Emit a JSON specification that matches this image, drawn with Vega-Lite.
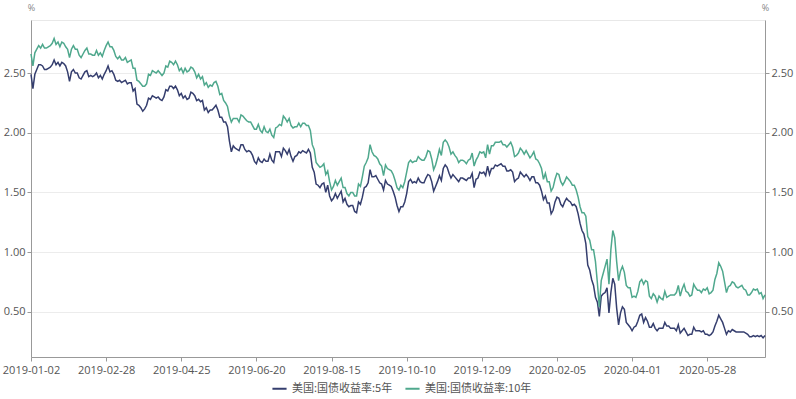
{
"$schema": "https://vega.github.io/schema/vega-lite/v6.json",
"width": 734, "height": 337,
"autosize": {"type": "none"},
"padding": {"left": 31, "top": 20, "right": 31, "bottom": 42},
"background": "white",
"config": {"view": {"stroke": "#e8e8e8", "strokeWidth": 1}, "font": "Open Sans"},
"data": {"values": [
{"d":"2019-01-02","a":2.49,"b":2.66},{"d":"2019-01-03","a":2.37,"b":2.56},{"d":"2019-01-04","a":2.49,"b":2.67},{"d":"2019-01-07","a":2.53,"b":2.70},{"d":"2019-01-08","a":2.57,"b":2.73},{"d":"2019-01-09","a":2.57,"b":2.71},{"d":"2019-01-10","a":2.56,"b":2.74},{"d":"2019-01-11","a":2.53,"b":2.71},{"d":"2019-01-14","a":2.53,"b":2.71},{"d":"2019-01-15","a":2.54,"b":2.72},{"d":"2019-01-16","a":2.55,"b":2.73},{"d":"2019-01-17","a":2.57,"b":2.75},{"d":"2019-01-18","a":2.61,"b":2.79},{"d":"2019-01-22","a":2.57,"b":2.74},{"d":"2019-01-23","a":2.59,"b":2.76},{"d":"2019-01-24","a":2.56,"b":2.72},{"d":"2019-01-25","a":2.59,"b":2.76},{"d":"2019-01-28","a":2.58,"b":2.75},{"d":"2019-01-29","a":2.56,"b":2.72},{"d":"2019-01-30","a":2.51,"b":2.70},{"d":"2019-01-31","a":2.43,"b":2.63},
{"d":"2019-02-01","a":2.51,"b":2.70},{"d":"2019-02-04","a":2.53,"b":2.73},{"d":"2019-02-05","a":2.50,"b":2.70},{"d":"2019-02-06","a":2.50,"b":2.70},{"d":"2019-02-07","a":2.46,"b":2.65},{"d":"2019-02-08","a":2.45,"b":2.63},{"d":"2019-02-11","a":2.48,"b":2.66},{"d":"2019-02-12","a":2.51,"b":2.69},{"d":"2019-02-13","a":2.52,"b":2.71},{"d":"2019-02-14","a":2.47,"b":2.66},{"d":"2019-02-15","a":2.48,"b":2.66},{"d":"2019-02-19","a":2.47,"b":2.65},{"d":"2019-02-20","a":2.48,"b":2.65},{"d":"2019-02-21","a":2.50,"b":2.69},{"d":"2019-02-22","a":2.46,"b":2.65},{"d":"2019-02-25","a":2.48,"b":2.67},{"d":"2019-02-26","a":2.45,"b":2.64},{"d":"2019-02-27","a":2.49,"b":2.69},{"d":"2019-02-28","a":2.52,"b":2.73},
{"d":"2019-03-01","a":2.56,"b":2.76},{"d":"2019-03-04","a":2.51,"b":2.72},{"d":"2019-03-05","a":2.52,"b":2.72},{"d":"2019-03-06","a":2.49,"b":2.69},{"d":"2019-03-07","a":2.44,"b":2.64},{"d":"2019-03-08","a":2.43,"b":2.62},{"d":"2019-03-11","a":2.44,"b":2.64},{"d":"2019-03-12","a":2.42,"b":2.61},{"d":"2019-03-13","a":2.43,"b":2.61},{"d":"2019-03-14","a":2.44,"b":2.63},{"d":"2019-03-15","a":2.41,"b":2.59},{"d":"2019-03-18","a":2.42,"b":2.60},{"d":"2019-03-19","a":2.42,"b":2.61},{"d":"2019-03-20","a":2.35,"b":2.54},{"d":"2019-03-21","a":2.37,"b":2.54},{"d":"2019-03-22","a":2.24,"b":2.44},{"d":"2019-03-25","a":2.23,"b":2.43},{"d":"2019-03-26","a":2.21,"b":2.41},{"d":"2019-03-27","a":2.18,"b":2.39},{"d":"2019-03-28","a":2.20,"b":2.39},{"d":"2019-03-29","a":2.23,"b":2.41},
{"d":"2019-04-01","a":2.29,"b":2.49},{"d":"2019-04-02","a":2.28,"b":2.48},{"d":"2019-04-03","a":2.31,"b":2.52},{"d":"2019-04-04","a":2.30,"b":2.51},{"d":"2019-04-05","a":2.29,"b":2.50},{"d":"2019-04-08","a":2.30,"b":2.52},{"d":"2019-04-09","a":2.28,"b":2.50},{"d":"2019-04-10","a":2.27,"b":2.48},{"d":"2019-04-11","a":2.30,"b":2.50},{"d":"2019-04-12","a":2.36,"b":2.56},{"d":"2019-04-15","a":2.35,"b":2.55},{"d":"2019-04-16","a":2.39,"b":2.60},{"d":"2019-04-17","a":2.39,"b":2.59},{"d":"2019-04-18","a":2.37,"b":2.57},{"d":"2019-04-22","a":2.39,"b":2.60},{"d":"2019-04-23","a":2.36,"b":2.57},{"d":"2019-04-24","a":2.31,"b":2.52},{"d":"2019-04-25","a":2.33,"b":2.54},{"d":"2019-04-26","a":2.29,"b":2.50},{"d":"2019-04-29","a":2.31,"b":2.54},{"d":"2019-04-30","a":2.28,"b":2.51},
{"d":"2019-05-01","a":2.29,"b":2.52},{"d":"2019-05-02","a":2.34,"b":2.55},{"d":"2019-05-03","a":2.33,"b":2.54},{"d":"2019-05-06","a":2.31,"b":2.51},{"d":"2019-05-07","a":2.27,"b":2.46},{"d":"2019-05-08","a":2.28,"b":2.49},{"d":"2019-05-09","a":2.26,"b":2.45},{"d":"2019-05-10","a":2.27,"b":2.47},{"d":"2019-05-13","a":2.19,"b":2.40},{"d":"2019-05-14","a":2.21,"b":2.42},{"d":"2019-05-15","a":2.17,"b":2.38},{"d":"2019-05-16","a":2.19,"b":2.40},{"d":"2019-05-17","a":2.19,"b":2.39},{"d":"2019-05-20","a":2.21,"b":2.42},{"d":"2019-05-21","a":2.23,"b":2.43},{"d":"2019-05-22","a":2.19,"b":2.39},{"d":"2019-05-23","a":2.13,"b":2.32},{"d":"2019-05-24","a":2.13,"b":2.33},{"d":"2019-05-28","a":2.09,"b":2.27},{"d":"2019-05-29","a":2.09,"b":2.25},{"d":"2019-05-30","a":2.05,"b":2.22},{"d":"2019-05-31","a":1.93,"b":2.14},
{"d":"2019-06-03","a":1.84,"b":2.09},{"d":"2019-06-04","a":1.89,"b":2.12},{"d":"2019-06-05","a":1.87,"b":2.12},{"d":"2019-06-06","a":1.86,"b":2.12},{"d":"2019-06-07","a":1.85,"b":2.09},{"d":"2019-06-10","a":1.90,"b":2.15},{"d":"2019-06-11","a":1.90,"b":2.14},{"d":"2019-06-12","a":1.86,"b":2.12},{"d":"2019-06-13","a":1.84,"b":2.10},{"d":"2019-06-14","a":1.85,"b":2.09},{"d":"2019-06-17","a":1.84,"b":2.09},{"d":"2019-06-18","a":1.81,"b":2.06},{"d":"2019-06-19","a":1.76,"b":2.03},{"d":"2019-06-20","a":1.74,"b":2.03},{"d":"2019-06-21","a":1.79,"b":2.07},{"d":"2019-06-24","a":1.76,"b":2.02},{"d":"2019-06-25","a":1.75,"b":2.00},{"d":"2019-06-26","a":1.78,"b":2.05},{"d":"2019-06-27","a":1.76,"b":2.01},{"d":"2019-06-28","a":1.76,"b":2.00},
{"d":"2019-07-01","a":1.82,"b":2.03},{"d":"2019-07-02","a":1.77,"b":1.98},{"d":"2019-07-03","a":1.75,"b":1.96},{"d":"2019-07-05","a":1.84,"b":2.04},{"d":"2019-07-08","a":1.84,"b":2.05},{"d":"2019-07-09","a":1.84,"b":2.07},{"d":"2019-07-10","a":1.80,"b":2.06},{"d":"2019-07-11","a":1.87,"b":2.14},{"d":"2019-07-12","a":1.85,"b":2.12},{"d":"2019-07-15","a":1.82,"b":2.09},{"d":"2019-07-16","a":1.86,"b":2.12},{"d":"2019-07-17","a":1.80,"b":2.06},{"d":"2019-07-18","a":1.76,"b":2.04},{"d":"2019-07-19","a":1.80,"b":2.05},{"d":"2019-07-22","a":1.81,"b":2.05},{"d":"2019-07-23","a":1.84,"b":2.08},{"d":"2019-07-24","a":1.83,"b":2.05},{"d":"2019-07-25","a":1.85,"b":2.08},{"d":"2019-07-26","a":1.84,"b":2.08},{"d":"2019-07-29","a":1.83,"b":2.06},{"d":"2019-07-30","a":1.86,"b":2.06},{"d":"2019-07-31","a":1.83,"b":2.02},
{"d":"2019-08-01","a":1.71,"b":1.90},{"d":"2019-08-02","a":1.67,"b":1.86},{"d":"2019-08-05","a":1.57,"b":1.75},{"d":"2019-08-06","a":1.56,"b":1.73},{"d":"2019-08-07","a":1.54,"b":1.71},{"d":"2019-08-08","a":1.57,"b":1.72},{"d":"2019-08-09","a":1.58,"b":1.74},{"d":"2019-08-12","a":1.50,"b":1.65},{"d":"2019-08-13","a":1.56,"b":1.68},{"d":"2019-08-14","a":1.47,"b":1.59},{"d":"2019-08-15","a":1.43,"b":1.52},{"d":"2019-08-16","a":1.45,"b":1.55},{"d":"2019-08-19","a":1.49,"b":1.60},{"d":"2019-08-20","a":1.45,"b":1.56},{"d":"2019-08-21","a":1.48,"b":1.59},{"d":"2019-08-22","a":1.51,"b":1.62},{"d":"2019-08-23","a":1.42,"b":1.54},{"d":"2019-08-26","a":1.45,"b":1.54},{"d":"2019-08-27","a":1.40,"b":1.49},{"d":"2019-08-28","a":1.38,"b":1.47},{"d":"2019-08-29","a":1.39,"b":1.50},{"d":"2019-08-30","a":1.39,"b":1.50},
{"d":"2019-09-03","a":1.34,"b":1.47},{"d":"2019-09-04","a":1.33,"b":1.47},{"d":"2019-09-05","a":1.42,"b":1.57},{"d":"2019-09-06","a":1.40,"b":1.55},{"d":"2019-09-09","a":1.46,"b":1.63},{"d":"2019-09-10","a":1.54,"b":1.72},{"d":"2019-09-11","a":1.55,"b":1.75},{"d":"2019-09-12","a":1.58,"b":1.79},{"d":"2019-09-13","a":1.69,"b":1.90},{"d":"2019-09-16","a":1.63,"b":1.84},{"d":"2019-09-17","a":1.63,"b":1.81},{"d":"2019-09-18","a":1.64,"b":1.80},{"d":"2019-09-19","a":1.61,"b":1.78},{"d":"2019-09-20","a":1.58,"b":1.74},{"d":"2019-09-23","a":1.57,"b":1.72},{"d":"2019-09-24","a":1.52,"b":1.64},{"d":"2019-09-25","a":1.60,"b":1.73},{"d":"2019-09-26","a":1.57,"b":1.70},{"d":"2019-09-27","a":1.56,"b":1.69},{"d":"2019-09-30","a":1.55,"b":1.68},
{"d":"2019-10-01","a":1.51,"b":1.65},{"d":"2019-10-02","a":1.46,"b":1.60},{"d":"2019-10-03","a":1.39,"b":1.54},{"d":"2019-10-04","a":1.34,"b":1.52},{"d":"2019-10-07","a":1.38,"b":1.56},{"d":"2019-10-08","a":1.38,"b":1.54},{"d":"2019-10-09","a":1.42,"b":1.59},{"d":"2019-10-10","a":1.49,"b":1.67},{"d":"2019-10-11","a":1.59,"b":1.75},{"d":"2019-10-15","a":1.61,"b":1.77},{"d":"2019-10-16","a":1.58,"b":1.75},{"d":"2019-10-17","a":1.59,"b":1.76},{"d":"2019-10-18","a":1.58,"b":1.76},{"d":"2019-10-21","a":1.62,"b":1.80},{"d":"2019-10-22","a":1.59,"b":1.78},{"d":"2019-10-23","a":1.58,"b":1.77},{"d":"2019-10-24","a":1.58,"b":1.77},{"d":"2019-10-25","a":1.62,"b":1.80},{"d":"2019-10-28","a":1.65,"b":1.85},{"d":"2019-10-29","a":1.64,"b":1.84},{"d":"2019-10-30","a":1.59,"b":1.78},{"d":"2019-10-31","a":1.51,"b":1.69},
{"d":"2019-11-01","a":1.55,"b":1.73},{"d":"2019-11-04","a":1.59,"b":1.79},{"d":"2019-11-05","a":1.64,"b":1.86},{"d":"2019-11-06","a":1.60,"b":1.81},{"d":"2019-11-07","a":1.70,"b":1.92},{"d":"2019-11-08","a":1.73,"b":1.94},{"d":"2019-11-12","a":1.71,"b":1.92},{"d":"2019-11-13","a":1.66,"b":1.88},{"d":"2019-11-14","a":1.62,"b":1.82},{"d":"2019-11-15","a":1.65,"b":1.84},{"d":"2019-11-18","a":1.63,"b":1.81},{"d":"2019-11-19","a":1.61,"b":1.79},{"d":"2019-11-20","a":1.59,"b":1.75},{"d":"2019-11-21","a":1.62,"b":1.77},{"d":"2019-11-22","a":1.62,"b":1.77},{"d":"2019-11-25","a":1.61,"b":1.76},{"d":"2019-11-26","a":1.60,"b":1.74},{"d":"2019-11-27","a":1.62,"b":1.77},{"d":"2019-11-29","a":1.62,"b":1.78},
{"d":"2019-12-02","a":1.66,"b":1.83},{"d":"2019-12-03","a":1.54,"b":1.72},{"d":"2019-12-04","a":1.61,"b":1.77},{"d":"2019-12-05","a":1.62,"b":1.80},{"d":"2019-12-06","a":1.67,"b":1.84},{"d":"2019-12-09","a":1.66,"b":1.83},{"d":"2019-12-10","a":1.67,"b":1.84},{"d":"2019-12-11","a":1.64,"b":1.79},{"d":"2019-12-12","a":1.72,"b":1.90},{"d":"2019-12-13","a":1.65,"b":1.82},{"d":"2019-12-16","a":1.70,"b":1.89},{"d":"2019-12-17","a":1.70,"b":1.89},{"d":"2019-12-18","a":1.73,"b":1.92},{"d":"2019-12-19","a":1.72,"b":1.92},{"d":"2019-12-20","a":1.73,"b":1.92},{"d":"2019-12-23","a":1.74,"b":1.93},{"d":"2019-12-24","a":1.72,"b":1.90},{"d":"2019-12-26","a":1.72,"b":1.90},{"d":"2019-12-27","a":1.68,"b":1.88},{"d":"2019-12-30","a":1.68,"b":1.90},{"d":"2019-12-31","a":1.69,"b":1.92},
{"d":"2020-01-02","a":1.67,"b":1.88},{"d":"2020-01-03","a":1.59,"b":1.80},{"d":"2020-01-06","a":1.61,"b":1.81},{"d":"2020-01-07","a":1.62,"b":1.83},{"d":"2020-01-08","a":1.67,"b":1.87},{"d":"2020-01-09","a":1.65,"b":1.85},{"d":"2020-01-10","a":1.63,"b":1.82},{"d":"2020-01-13","a":1.65,"b":1.85},{"d":"2020-01-14","a":1.63,"b":1.82},{"d":"2020-01-15","a":1.60,"b":1.79},{"d":"2020-01-16","a":1.63,"b":1.81},{"d":"2020-01-17","a":1.63,"b":1.84},{"d":"2020-01-21","a":1.58,"b":1.78},{"d":"2020-01-22","a":1.58,"b":1.77},{"d":"2020-01-23","a":1.56,"b":1.74},{"d":"2020-01-24","a":1.51,"b":1.70},{"d":"2020-01-27","a":1.44,"b":1.61},{"d":"2020-01-28","a":1.47,"b":1.66},{"d":"2020-01-29","a":1.41,"b":1.59},{"d":"2020-01-30","a":1.41,"b":1.59},{"d":"2020-01-31","a":1.32,"b":1.51},
{"d":"2020-02-03","a":1.35,"b":1.54},{"d":"2020-02-04","a":1.42,"b":1.61},{"d":"2020-02-05","a":1.46,"b":1.66},{"d":"2020-02-06","a":1.45,"b":1.65},{"d":"2020-02-07","a":1.40,"b":1.59},{"d":"2020-02-10","a":1.38,"b":1.56},{"d":"2020-02-11","a":1.42,"b":1.59},{"d":"2020-02-12","a":1.45,"b":1.63},{"d":"2020-02-13","a":1.43,"b":1.61},{"d":"2020-02-14","a":1.42,"b":1.59},{"d":"2020-02-18","a":1.39,"b":1.56},{"d":"2020-02-19","a":1.40,"b":1.56},{"d":"2020-02-20","a":1.38,"b":1.52},{"d":"2020-02-21","a":1.32,"b":1.46},{"d":"2020-02-24","a":1.24,"b":1.38},{"d":"2020-02-25","a":1.18,"b":1.33},{"d":"2020-02-26","a":1.15,"b":1.33},{"d":"2020-02-27","a":1.07,"b":1.30},{"d":"2020-02-28","a":0.89,"b":1.13},
{"d":"2020-03-02","a":0.85,"b":1.10},{"d":"2020-03-03","a":0.77,"b":1.02},{"d":"2020-03-04","a":0.72,"b":1.02},{"d":"2020-03-05","a":0.62,"b":0.92},{"d":"2020-03-06","a":0.58,"b":0.74},{"d":"2020-03-09","a":0.46,"b":0.54},{"d":"2020-03-10","a":0.63,"b":0.76},{"d":"2020-03-11","a":0.65,"b":0.82},{"d":"2020-03-12","a":0.66,"b":0.88},{"d":"2020-03-13","a":0.70,"b":0.94},{"d":"2020-03-16","a":0.49,"b":0.73},{"d":"2020-03-17","a":0.66,"b":1.02},{"d":"2020-03-18","a":0.78,"b":1.18},{"d":"2020-03-19","a":0.73,"b":1.12},{"d":"2020-03-20","a":0.53,"b":0.92},{"d":"2020-03-23","a":0.39,"b":0.76},{"d":"2020-03-24","a":0.49,"b":0.84},{"d":"2020-03-25","a":0.54,"b":0.88},{"d":"2020-03-26","a":0.52,"b":0.83},{"d":"2020-03-27","a":0.41,"b":0.72},{"d":"2020-03-30","a":0.39,"b":0.70},{"d":"2020-03-31","a":0.37,"b":0.70},
{"d":"2020-04-01","a":0.34,"b":0.62},{"d":"2020-04-02","a":0.37,"b":0.63},{"d":"2020-04-03","a":0.38,"b":0.62},{"d":"2020-04-06","a":0.42,"b":0.67},{"d":"2020-04-07","a":0.47,"b":0.75},{"d":"2020-04-08","a":0.48,"b":0.77},{"d":"2020-04-09","a":0.41,"b":0.73},{"d":"2020-04-13","a":0.45,"b":0.76},{"d":"2020-04-14","a":0.42,"b":0.75},{"d":"2020-04-15","a":0.37,"b":0.63},{"d":"2020-04-16","a":0.37,"b":0.61},{"d":"2020-04-17","a":0.40,"b":0.65},{"d":"2020-04-20","a":0.36,"b":0.63},{"d":"2020-04-21","a":0.34,"b":0.58},{"d":"2020-04-22","a":0.36,"b":0.63},{"d":"2020-04-23","a":0.36,"b":0.61},{"d":"2020-04-24","a":0.36,"b":0.60},{"d":"2020-04-27","a":0.41,"b":0.67},{"d":"2020-04-28","a":0.38,"b":0.62},{"d":"2020-04-29","a":0.38,"b":0.63},{"d":"2020-04-30","a":0.36,"b":0.64},
{"d":"2020-05-01","a":0.36,"b":0.64},{"d":"2020-05-04","a":0.36,"b":0.64},{"d":"2020-05-05","a":0.34,"b":0.66},{"d":"2020-05-06","a":0.39,"b":0.72},{"d":"2020-05-07","a":0.32,"b":0.63},{"d":"2020-05-08","a":0.34,"b":0.69},{"d":"2020-05-11","a":0.36,"b":0.73},{"d":"2020-05-12","a":0.33,"b":0.67},{"d":"2020-05-13","a":0.30,"b":0.66},{"d":"2020-05-14","a":0.31,"b":0.63},{"d":"2020-05-15","a":0.31,"b":0.64},{"d":"2020-05-18","a":0.37,"b":0.73},{"d":"2020-05-19","a":0.34,"b":0.70},{"d":"2020-05-20","a":0.34,"b":0.68},{"d":"2020-05-21","a":0.34,"b":0.68},{"d":"2020-05-22","a":0.33,"b":0.66},{"d":"2020-05-26","a":0.34,"b":0.69},{"d":"2020-05-27","a":0.31,"b":0.68},{"d":"2020-05-28","a":0.31,"b":0.70},{"d":"2020-05-29","a":0.30,"b":0.65},
{"d":"2020-06-01","a":0.31,"b":0.66},{"d":"2020-06-02","a":0.33,"b":0.68},{"d":"2020-06-03","a":0.38,"b":0.77},{"d":"2020-06-04","a":0.42,"b":0.82},{"d":"2020-06-05","a":0.47,"b":0.91},{"d":"2020-06-08","a":0.44,"b":0.88},{"d":"2020-06-09","a":0.41,"b":0.84},{"d":"2020-06-10","a":0.36,"b":0.75},{"d":"2020-06-11","a":0.31,"b":0.66},{"d":"2020-06-12","a":0.34,"b":0.71},{"d":"2020-06-15","a":0.33,"b":0.72},{"d":"2020-06-16","a":0.35,"b":0.75},{"d":"2020-06-17","a":0.34,"b":0.74},{"d":"2020-06-18","a":0.33,"b":0.71},{"d":"2020-06-19","a":0.33,"b":0.70},{"d":"2020-06-22","a":0.33,"b":0.71},{"d":"2020-06-23","a":0.33,"b":0.72},{"d":"2020-06-24","a":0.33,"b":0.69},{"d":"2020-06-25","a":0.32,"b":0.68},{"d":"2020-06-26","a":0.31,"b":0.64},{"d":"2020-06-29","a":0.29,"b":0.64},{"d":"2020-06-30","a":0.29,"b":0.66},
{"d":"2020-07-01","a":0.30,"b":0.69},{"d":"2020-07-02","a":0.29,"b":0.68},{"d":"2020-07-06","a":0.30,"b":0.69},{"d":"2020-07-07","a":0.29,"b":0.65},{"d":"2020-07-08","a":0.30,"b":0.66},{"d":"2020-07-09","a":0.28,"b":0.61},{"d":"2020-07-10","a":0.30,"b":0.64}
]},
"transform": [{"fold": ["a", "b"], "as": ["s", "v"]}],
"encoding": {
  "x": {"field": "d", "type": "ordinal", "sort": "ascending",
    "scale": {"type": "point", "padding": 0},
    "axis": {"values": ["2019-01-02","2019-02-28","2019-04-25","2019-06-20","2019-08-15","2019-10-10","2019-12-09","2020-02-05","2020-04-01","2020-05-28"],
      "title": null, "labelAngle": 0, "labelFontSize": 11, "labelColor": "#555555", "labelPadding": 3,
      "domainColor": "#999999", "tickColor": "#999999", "tickSize": 4, "grid": false, "labelOverlap": false}}
},
"layer": [
  {"mark": {"type": "line", "strokeWidth": 1.5},
   "encoding": {
     "y": {"field": "v", "type": "quantitative",
       "scale": {"domain": [0.12, 2.945], "nice": false, "zero": false},
       "axis": {"orient": "left", "values": [0.5, 1, 1.5, 2, 2.5], "format": ".2f",
         "title": "%", "titleAngle": 0, "titleX": 0, "titleY": -13, "titleAlign": "center", "titleBaseline": "middle", "titleFontWeight": "normal", "titleFontSize": 9, "titleColor": "#888888",
         "labelFontSize": 11, "labelColor": "#555555", "labelPadding": 2, "tickSize": 4, "tickColor": "#999999", "domainColor": "#999999",
         "grid": true, "gridColor": "#ececec"}},
     "color": {"field": "s", "type": "nominal",
       "scale": {"domain": ["a", "b"], "range": ["#353e6e", "#4fa88d"]},
       "legend": {"orient": "none", "legendX": 240, "legendY": 360, "direction": "horizontal", "title": null,
         "symbolType": "stroke", "symbolStrokeWidth": 2, "symbolSize": 200,
         "labelFont": "Noto Sans CJK SC", "labelFontSize": 11, "labelColor": "#555555", "columnPadding": 8,
         "labelExpr": "datum.label == 'a' ? '美国:国债收益率:5年' : '美国:国债收益率:10年'"}}
   }},
  {"mark": {"type": "line", "opacity": 0},
   "encoding": {
     "y": {"field": "v", "type": "quantitative",
       "scale": {"domain": [0.12, 2.945], "nice": false, "zero": false},
       "axis": {"orient": "right", "values": [0.5, 1, 1.5, 2, 2.5], "format": ".2f",
         "title": "%", "titleAngle": 0, "titleX": 0, "titleY": -13, "titleAlign": "center", "titleBaseline": "middle", "titleFontWeight": "normal", "titleFontSize": 9, "titleColor": "#888888",
         "labelFontSize": 11, "labelColor": "#555555", "labelPadding": 2, "tickSize": 4, "tickColor": "#999999", "domainColor": "#999999",
         "grid": false}},
     "detail": {"field": "s", "type": "nominal"}
   }}
],
"resolve": {"axis": {"y": "independent"}}
}
